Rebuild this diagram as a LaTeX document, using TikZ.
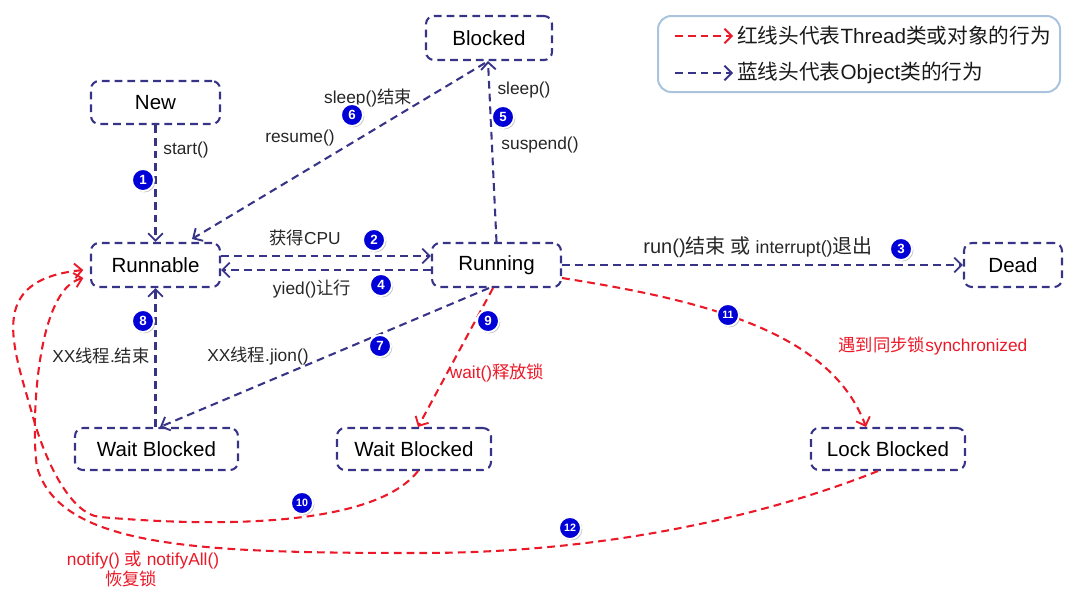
\documentclass[tikz,border=0pt]{standalone}
\usepackage{fontspec}
\setmainfont{Liberation Sans}
\newfontfamily\cjk{Noto Sans CJK SC}
\usetikzlibrary{arrows.meta,shadows}
\definecolor{lineblue}{RGB}{55,52,135}
\definecolor{linered}{RGB}{235,25,40}
\definecolor{badgeblue}{RGB}{0,0,215}
\definecolor{legendborder}{RGB}{170,196,222}
\begin{document}
\begin{tikzpicture}[x=0.75pt,y=-0.75pt,
  dashpat/.style={line width=1.55pt, dash pattern=on 5.8pt off 3.8pt},
  state/.style={draw=lineblue, dashpat, rounded corners=6pt, font=\fontsize{15.4}{18}\selectfont, text=black, inner sep=0pt},
  bline/.style={draw=lineblue, dashpat, -{Straight Barb[length=5.5pt,width=11pt,line width=1.4pt]}},
  rline/.style={draw=linered, dashpat, -{Straight Barb[length=5.5pt,width=11pt,line width=1.4pt]}},
  lbl/.style={font=\fontsize{13}{15}\selectfont, inner sep=0pt, text=black!85},
  rlbl/.style={lbl, text=linered},
  badge/.style={circle, fill=badgeblue, draw=white, line width=1.4pt, minimum size=16.5pt, inner sep=0pt, text=white, font=\fontsize{10}{10}\selectfont\bfseries, drop shadow={shadow xshift=1pt, shadow yshift=-1pt, opacity=0.5}},
  badgesm/.style={badge, font=\fontsize{8}{8}\selectfont\bfseries},
  legtext/.style={anchor=west, font=\fontsize{15.5}{18}\selectfont, inner sep=0pt, text=black!90}
]
\useasboundingbox (0,0) rectangle (1068,597);

% legend
\node[draw=legendborder, line width=1.5pt, rounded corners=10pt, minimum width=301.5pt, minimum height=57pt] (legend) at (859,54) {};
\coordinate (lra) at (675,36);
\coordinate (lrb) at (733,36);
\coordinate (lba) at (675,73);
\coordinate (lbb) at (733,73);
\draw[rline] (lra) -- (lrb);
\draw[bline] (lba) -- (lbb);
\node[legtext] (lt1) at (737,36) {{\cjk 红线头代表}Thread{\cjk 类或对象的行为}};
\node[legtext] (lt2) at (737,73) {{\cjk 蓝线头代表}Object{\cjk 类的行为}};

% states
\node[state, minimum width=94.5pt, minimum height=33pt] (blocked) at (489,38) {Blocked};
\node[state, minimum width=96.75pt, minimum height=32.25pt] (new) at (155.5,102.5) {New};
\node[state, minimum width=96.75pt, minimum height=33pt] (runnable) at (155.5,265) {Runnable};
\node[state, minimum width=96.75pt, minimum height=33pt] (running) at (496.5,265) {Running};
\node[state, minimum width=73.5pt, minimum height=33pt] (dead) at (1013,265) {Dead};
\node[state, minimum width=122.25pt, minimum height=31.5pt] (wb1) at (156.5,449) {Wait Blocked};
\node[state, minimum width=115.5pt, minimum height=31.5pt] (wb2) at (414,449) {Wait Blocked};
\node[state, minimum width=115.5pt, minimum height=31.5pt] (lock) at (888,449) {Lock Blocked};

% blue connectors
\draw[bline] (new.south) -- (runnable.north);
\draw[bline] ([yshift=6.75pt]runnable.east) -- ([yshift=6.75pt]running.west);
\draw[bline] ([yshift=-3.75pt]running.west) -- ([yshift=-3.75pt]runnable.east);
\draw[bline] (running.east) -- (dead.west);
\draw[bline] (running.north) -- ([xshift=-0.75pt]blocked.south);
\draw[bline] ([xshift=-3pt,yshift=-1.5pt]blocked.south) -- ([xshift=27.4pt,yshift=2.25pt]runnable.north);
\draw[bline] ([xshift=-5.6pt]running.south) -- ([xshift=2.6pt]wb1.north);
\draw[bline] ([xshift=-0.75pt]wb1.north) -- (runnable.south);

% red connectors
\draw[rline] ([xshift=-2.6pt]running.south) -- ([xshift=3pt]wb2.north);
\draw[rline] ([yshift=-9.75pt]running.east) .. controls (700,300) and (830,330) .. ([xshift=-16.5pt]lock.north);
\draw[rline] ([xshift=3pt]wb2.south) .. controls (380,520) and (250,530) .. (100,517)
  .. controls (70,514) and (45,460) .. (33,417)
  .. controls (13,345) and (-15,280) .. ([xshift=-5pt,yshift=-3.75pt]runnable.west);
\draw[rline] ([xshift=-7.5pt]lock.south) .. controls (780,510) and (620,553) .. (420,553)
  .. controls (200,553) and (60,548) .. (37,467)
  .. controls (31,431) and (35,290) .. ([xshift=-5pt,yshift=-9.75pt]runnable.west);

% labels
\node[lbl] (lstart) at (186,150) {start()};
\node[lbl] (lcpu) at (305,238) {{\cjk 获得}CPU};
\node[lbl] (lyield) at (312,289) {yied(){\cjk 让行}};
\node[lbl] (lsleepend) at (368,98) {sleep(){\cjk 结束}};
\node[lbl] (lresume) at (300,138) {resume()};
\node[lbl] (lsleep) at (524,90) {sleep()};
\node[lbl] (lsuspend) at (540,145) {suspend()};
\node[lbl, font=\fontsize{15}{17}\selectfont] (lrun) at (758,247) {run(){\cjk 结束 或} {\fontsize{13.3}{16}\selectfont interrupt()}{\cjk 退出}};
\node[lbl] (lend) at (101,356) {XX{\cjk 线程}.{\cjk 结束}};
\node[lbl] (ljoin) at (258,356) {XX{\cjk 线程}.jion()};
\node[rlbl] (lwait) at (497,373) {wait(){\cjk 释放锁}};
\node[rlbl] (lsync) at (933,346) {{\cjk 遇到同步锁}synchronized};
\node[rlbl] (lnotify) at (143,560) {notify() {\cjk 或} notifyAll()};
\node[rlbl] (lrestore) at (131,579) {{\cjk 恢复锁}};

% badges
\node[badge] (b1) at (143,180) {1};
\node[badge] (b2) at (374,240) {2};
\node[badge] (b3) at (901,249) {3};
\node[badge] (b4) at (381,285) {4};
\node[badge] (b5) at (503,117) {5};
\node[badge] (b6) at (352,115) {6};
\node[badge] (b7) at (380,346) {7};
\node[badge] (b8) at (143,321) {8};
\node[badge] (b9) at (488,321) {9};
\node[badgesm] (b10) at (302,503) {10};
\node[badgesm] (b11) at (728,315) {11};
\node[badgesm] (b12) at (570,528) {12};
\end{tikzpicture}
\end{document}
